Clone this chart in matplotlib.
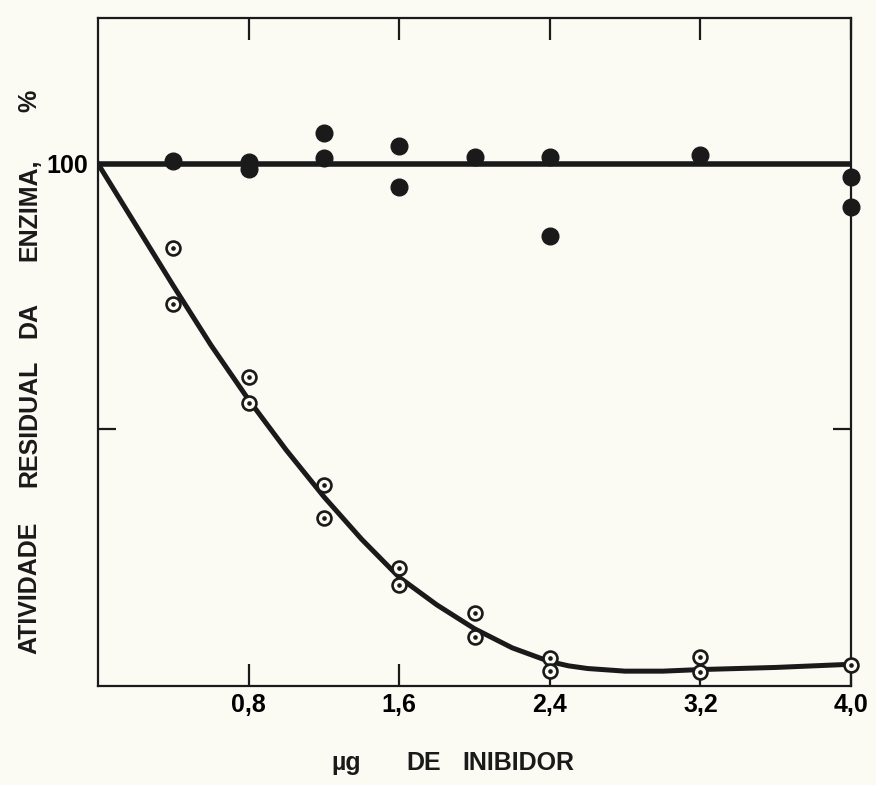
import numpy as np
import matplotlib.pyplot as plt

# Control (filled) points: residual activity, %
ctrl_x = [0.4, 0.8, 0.8, 1.2, 1.2, 1.6, 1.6, 2.0, 2.4, 2.4, 3.2, 4.0, 4.0]
ctrl_y = [100.6, 100.4, 99.0, 105.8, 101.1, 103.4, 95.7, 101.3, 101.3, 86.4, 101.7, 97.5, 91.9]

# Inhibited (open dotted) points
inh_x = [0.4, 0.4, 0.8, 0.8, 1.2, 1.2, 1.6, 1.6, 2.0, 2.0, 2.4, 2.4, 3.2, 3.2, 4.0]
inh_y = [84.2, 73.6, 59.8, 54.9, 39.4, 33.2, 23.8, 20.6, 15.3, 10.8, 6.8, 4.3, 7.0, 4.2, 5.5]

# hand-drawn curves
level_x = [0.0, 4.0]
level_y = [100, 100]
curve_x = [0.0, 0.2, 0.4, 0.6, 0.8, 1.0, 1.2, 1.4, 1.6, 1.8, 2.0, 2.2, 2.4, 2.5, 2.6, 2.8, 3.0, 3.2, 3.6, 4.0]
curve_y = [100, 88.5, 77, 65.8, 55.5, 46, 37.2, 29.2, 22, 16.8, 12.3, 8.7, 6.1, 5.3, 4.8, 4.3, 4.3, 4.6, 5.0, 5.6]

xticks = [0.8, 1.6, 2.4, 3.2, 4.0]
xtick_labels = ["0,8", "1,6", "2,4", "3,2", "4,0"]

bg = "#fbfbf4"
ink = "#1a1a1a"
font = "Liberation Sans"
fs = 18

fig = plt.figure(figsize=(8.76, 7.85), dpi=100, facecolor=bg)
ax = fig.add_axes([98 / 876, 1 - 686 / 785, 753 / 876, 668 / 785])
ax.set_facecolor(bg)

ax.plot(level_x, level_y, color=ink, lw=4.0, solid_capstyle="butt", zorder=2)
ax.plot(curve_x, curve_y, color=ink, lw=3.6, solid_joinstyle="round", zorder=2)

ax.plot(ctrl_x, ctrl_y, "o", ms=12, color=ink, mec=ink, clip_on=False, zorder=4)
ax.plot(inh_x, inh_y, "o", ms=10, mfc=bg, mec=ink, mew=1.9, clip_on=False, zorder=4)
ax.plot(inh_x, inh_y, "o", ms=2.3, color=ink, clip_on=False, zorder=5)

ax.set_xlim(0, 4.0)
ax.set_ylim(1.5, 127.5)

for s in ax.spines.values():
    s.set_linewidth(1.6)
    s.set_color(ink)

ax.set_xticks(xticks)
ax.set_xticklabels(xtick_labels, fontfamily=font, fontweight="bold", fontsize=fs)
ax.set_yticks([50, 100])
ax.set_yticklabels(["", "100"], fontfamily=font, fontweight="bold", fontsize=fs)
ax.tick_params(direction="in", length=13, width=1.6, color=ink, top=True, right=True, pad=5)
ax.tick_params(axis="x", length=16)
ax.tick_params(axis="y", pad=7)

# axis titles, word by word as in the original
ylab = [("ATIVIDADE", 588), ("RESIDUAL", 423), ("DA", 320), ("ENZIMA,", 210), ("%", 101)]
for word, py in ylab:
    fig.text(29 / 876, 1 - py / 785, word, rotation=90, ha="center", va="center",
             fontfamily=font, fontweight="bold", fontsize=fs, color=ink)

xlab = [("\u00b5g", 346), ("DE", 424), ("INIBIDOR", 518)]
for word, px in xlab:
    fig.text(px / 876, 1 - 763 / 785, word, ha="center", va="center",
             fontfamily=font, fontweight="bold", fontsize=fs, color=ink)

fig.savefig("out.png", dpi=100, facecolor=bg)
